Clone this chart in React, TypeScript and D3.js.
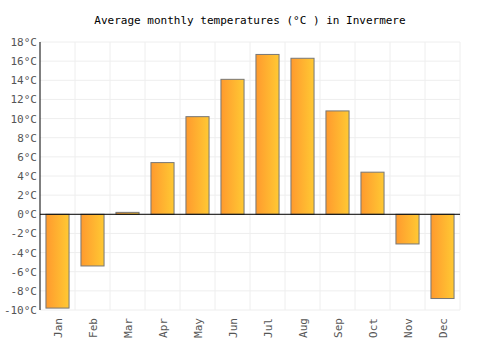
import React from "react";
import * as d3 from "d3";

const months = ["Jan","Feb","Mar","Apr","May","Jun","Jul","Aug","Sep","Oct","Nov","Dec"];
const temps = [-9.8,-5.4,0.2,5.4,10.2,14.1,16.7,16.3,10.8,4.4,-3.1,-8.8];
const yTicks = [-10,-8,-6,-4,-2,0,2,4,6,8,10,12,14,16,18];
const title = "Average monthly temperatures (°C ) in Invermere";

export default function App() {
  const W = 500, H = 350;
  const left = 40, right = 460, top = 42, bottom = 310;
  const x = d3.scaleBand<string>().domain(months).range([left, right]).paddingInner(0.34).paddingOuter(0.17);
  const xg = d3.scaleBand<string>().domain(months).range([left, right]);
  const y = d3.scaleLinear().domain([-10, 18]).range([bottom, top]);
  const font = "'DejaVu Sans Mono', monospace";
  return (
    <svg width={W} height={H} style={{ position: "absolute", left: 0, top: 0 }}>
      <defs>
        <linearGradient id="bg" x1="0" x2="1" y1="0" y2="0">
          <stop offset="0" stopColor="#ff9a2e" />
          <stop offset="1" stopColor="#ffc933" />
        </linearGradient>
      </defs>
      <rect width={W} height={H} fill="#fff" />
      <text x={250} y={24} textAnchor="middle" fontFamily={font} fontSize={11} fill="#000">{title}</text>
      {yTicks.map(t => (
        <g key={t}>
          <line x1={left} x2={right} y1={y(t)} y2={y(t)} stroke="#eeeeee" />
          <text x={left - 3} y={y(t) + 4} textAnchor="end" fontFamily={font} fontSize={11} fill="#555">{t}°C</text>
        </g>
      ))}
      {months.map(m => (
        <line key={m} x1={xg(m)! + xg.bandwidth()} x2={xg(m)! + xg.bandwidth()} y1={top} y2={bottom} stroke="#eeeeee" />
      ))}
      {months.map((m, i) => {
        const v = temps[i];
        const y0 = y(Math.max(0, v)), y1 = y(Math.min(0, v));
        return (
          <rect key={m} x={x(m)} y={y0} width={x.bandwidth()} height={Math.max(1, y1 - y0)} fill="url(#bg)" stroke="#777" strokeWidth={1} />
        );
      })}
      <line x1={left} x2={right} y1={y(0)} y2={y(0)} stroke="#000" />
      <line x1={left} x2={left} y1={top} y2={bottom} stroke="#000" />
      {months.map(m => {
        const cx = xg(m)! + xg.bandwidth() / 2;
        return (
          <text key={m} transform={`translate(${cx + 4},${318}) rotate(-90)`} textAnchor="end" fontFamily={font} fontSize={11} fill="#555">{m}</text>
        );
      })}
    </svg>
  );
}
